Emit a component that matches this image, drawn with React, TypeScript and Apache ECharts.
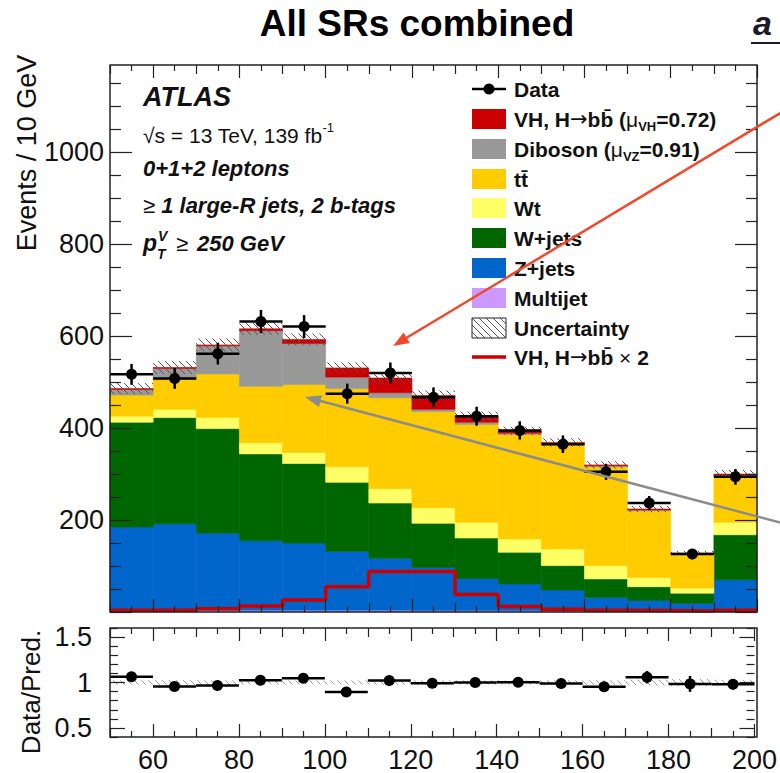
import React, { useEffect, useRef } from "react";
import * as echarts from "echarts";

// ---------------- data ----------------
const BIN_EDGES = [50, 60, 70, 80, 90, 100, 110, 120, 130, 140, 150, 160, 170, 180, 190, 200];
const MULTIJET = [6, 5, 4, 4, 4, 4, 4, 3, 3, 3, 2, 2, 1, 1, 1];
const ZJETS = [179, 187, 168, 151, 146, 128, 113, 94, 70, 58, 46, 30, 24, 18, 69];
const WJETS = [228, 231, 227, 189, 173, 150, 120, 96, 88, 69, 53, 40, 30, 22, 98];
const WT = [13, 18, 24, 24, 24, 34, 31, 34, 34, 29, 36, 29, 20, 11, 27];
const TTBAR = [46, 65, 95, 123, 148, 170, 198, 209, 213, 227, 229, 215, 145, 74, 99];
const DIBOSON = [12, 24, 61, 121, 89, 25, 11, 5, 5, 3, 1, 2, 2, 1, 4];
const VH = [2, 2, 2, 4, 9, 20, 32, 30, 13, 5, 2, 2, 2, 1, 2];
const VH_X2 = [4, 4, 7, 13, 26, 55, 88, 88, 38, 12, 6, 4, 3, 2, 4];
const DATA = [517, 508, 562, 632, 621, 475, 520, 467, 426, 395, 365, 305, 237, 126, 294];
const SYST = [12, 14, 14, 13, 13, 12, 12, 11, 10, 9, 9, 8, 7, 5, 9];

// ---------------- tick labels ----------------
const X_MAJOR = [60, 80, 100, 120, 140, 160, 180, 200];
const X_MID = [50, 70, 90, 110, 130, 150, 170, 190];
const X_MINOR = [55, 65, 75, 85, 95, 105, 115, 125, 135, 145, 155, 165, 175, 185, 195];
const Y_MAIN_LABELS = [200, 400, 600, 800, 1000];
const Y_MAIN_MAJOR = [0, 200, 400, 600, 800, 1000];
const Y_MAIN_MINOR = [50, 100, 150, 250, 300, 350, 450, 500, 550, 650, 700, 750, 850, 900, 950, 1050, 1100, 1150];
const Y_RATIO_LABELS = [0.5, 1, 1.5];
const Y_RATIO_MINOR = [0.4, 0.6, 0.7, 0.8, 0.9, 1.1, 1.2, 1.3, 1.4, 1.6];

const FONT = "'Liberation Sans', Arial, Helvetica, sans-serif";
const C = {
  vh: "#cc0000",
  dib: "#999999",
  tt: "#ffcc00",
  wt: "#ffff66",
  wj: "#006600",
  zj: "#0066cc",
  mj: "#cc99ff",
};

const MAIN = { left: 110, top: 65, width: 647, height: 547 };
const RATIO = { left: 110, top: 628, width: 647, height: 109 };

function hatchLines(x0: number, y0: number, x1: number, y1: number, step: number, color: string, w: number) {
  const out: any[] = [];
  const cStart = Math.ceil((y0 - x1) / step) * step;
  for (let c = cStart; c <= y1 - x0; c += step) {
    const xa = Math.max(x0, y0 - c);
    const xb = Math.min(x1, y1 - c);
    if (xb > xa) {
      out.push({ type: "line", shape: { x1: xa, y1: xa + c, x2: xb, y2: xb + c }, style: { stroke: color, lineWidth: w } });
    }
  }
  return out;
}

const fmt = (v: number) => String(v);

function xAxes(grid: number, labels: boolean) {
  const tick = { color: "#222", width: 1.2 };
  const mk = (pos: string, vals: number[], len: number, withLabels: boolean) => ({
    type: "value",
    gridIndex: grid,
    position: pos,
    min: 50,
    max: 200,
    z: 10,
    axisLine: { show: false, onZero: false },
    splitLine: { show: false },
    axisTick: { show: true, inside: true, length: len, customValues: vals, lineStyle: tick },
    axisLabel: withLabels
      ? { show: true, customValues: X_MAJOR, formatter: fmt, fontSize: 27, color: "#111", fontFamily: FONT, margin: 9 }
      : { show: false },
  });
  return [
    mk("bottom", X_MAJOR, 13, labels),
    mk("bottom", X_MID, 9, false),
    mk("bottom", X_MINOR, 6, false),
    mk("top", X_MAJOR, 13, false),
    mk("top", X_MID, 9, false),
    mk("top", X_MINOR, 6, false),
  ];
}

function yAxes(grid: number, min: number, max: number, major: number[], minor: number[], labels: number[], majorLen: number, minorLen: number, margin: number) {
  const tick = { color: "#222", width: 1.2 };
  const mk = (pos: string, vals: number[], len: number, withLabels: boolean) => ({
    type: "value",
    gridIndex: grid,
    position: pos,
    min,
    max,
    z: 10,
    axisLine: { show: false, onZero: false },
    splitLine: { show: false },
    axisTick: { show: true, inside: true, length: len, customValues: vals, lineStyle: tick },
    axisLabel: withLabels
      ? { show: true, customValues: labels, formatter: fmt, fontSize: 27, color: "#111", fontFamily: FONT, margin }
      : { show: false },
  });
  return [mk("left", major, majorLen, true), mk("left", minor, minorLen, false), mk("right", major, majorLen, false), mk("right", minor, minorLen, false)];
}

function rectRender(color: string) {
  return (_p: any, api: any) => {
    const a = api.coord([api.value(0), api.value(3)]);
    const b = api.coord([api.value(1), api.value(2)]);
    return {
      type: "rect",
      shape: { x: a[0], y: a[1], width: b[0] - a[0], height: b[1] - a[1] },
      style: { fill: color, stroke: color, lineWidth: 0.6 },
    };
  };
}

function hatchRender(color: string) {
  return (_p: any, api: any) => {
    const a = api.coord([api.value(0), api.value(3)]);
    const b = api.coord([api.value(1), api.value(2)]);
    return { type: "group", children: hatchLines(a[0], a[1], b[0], b[1], 7, color, 1) };
  };
}

function pointRender(r: number) {
  return (_p: any, api: any) => {
    const xl = api.value(0), xh = api.value(1), y = api.value(2), e = api.value(3);
    const xm = (xl + xh) / 2;
    const pl = api.coord([xl, y]);
    const ph = api.coord([xh, y]);
    const pt = api.coord([xm, y + e]);
    const pb = api.coord([xm, y - e]);
    return {
      type: "group",
      children: [
        { type: "line", shape: { x1: pl[0], y1: pl[1], x2: ph[0], y2: ph[1] }, style: { stroke: "#000", lineWidth: 2.5 } },
        { type: "line", shape: { x1: pt[0], y1: pt[1], x2: pb[0], y2: pb[1] }, style: { stroke: "#000", lineWidth: 2.5 } },
        { type: "circle", shape: { cx: pt[0], cy: pl[1], r }, style: { fill: "#000" } },
      ],
    };
  };
}

function arrow(x0: number, y0: number, x1: number, y1: number, color: string) {
  const dx = x1 - x0, dy = y1 - y0;
  const L = Math.hypot(dx, dy);
  const ux = dx / L, uy = dy / L;
  const hl = 16, hw = 12;
  const bx = x1 - ux * hl, by = y1 - uy * hl;
  const px = -uy, py = ux;
  return [
    { type: "line", z: 100, shape: { x1: x0, y1: y0, x2: bx + ux * 2, y2: by + uy * 2 }, style: { stroke: color, lineWidth: 2.5 } },
    {
      type: "polygon",
      z: 100,
      shape: { points: [[x1, y1], [bx + px * hw / 2, by + py * hw / 2], [bx - px * hw / 2, by - py * hw / 2]] },
      style: { fill: color },
    },
  ];
}

function buildOption() {
  const n = DATA.length;
  const cum = new Array(n).fill(0);
  const stacks = [
    { name: "Multijet", values: MULTIJET, color: C.mj },
    { name: "Z+jets", values: ZJETS, color: C.zj },
    { name: "W+jets", values: WJETS, color: C.wj },
    { name: "Wt", values: WT, color: C.wt },
    { name: "ttbar", values: TTBAR, color: C.tt },
    { name: "Diboson", values: DIBOSON, color: C.dib },
    { name: "VH", values: VH, color: C.vh },
  ];
  const series: any[] = [];
  stacks.forEach((s) => {
    const data = s.values.map((v, i) => {
      const lo = cum[i];
      cum[i] = lo + v;
      return [BIN_EDGES[i], BIN_EDGES[i + 1], lo, lo + v];
    });
    series.push({ type: "custom", name: s.name, xAxisIndex: 0, yAxisIndex: 0, data, renderItem: rectRender(s.color), z: 2 });
  });
  const totals = cum.slice();

  series.push({
    type: "custom",
    name: "Uncertainty",
    xAxisIndex: 0,
    yAxisIndex: 0,
    z: 3,
    data: totals.map((t, i) => [BIN_EDGES[i], BIN_EDGES[i + 1], t - SYST[i], t + SYST[i]]),
    renderItem: hatchRender("#555"),
  });

  const lineData: number[][] = VH_X2.map((v, i) => [BIN_EDGES[i], v]);
  lineData.push([BIN_EDGES[n], VH_X2[n - 1]]);
  series.push({
    type: "line",
    name: "VH x2",
    xAxisIndex: 0,
    yAxisIndex: 0,
    step: "end",
    symbol: "none",
    z: 4,
    data: lineData,
    lineStyle: { color: C.vh, width: 3.5 },
  });

  series.push({
    type: "custom",
    name: "Data",
    xAxisIndex: 0,
    yAxisIndex: 0,
    z: 5,
    data: DATA.map((d, i) => [BIN_EDGES[i], BIN_EDGES[i + 1], d, Math.sqrt(d)]),
    renderItem: pointRender(5.5),
  });

  // ratio panel
  series.push({
    type: "custom",
    name: "Ratio band",
    xAxisIndex: 6,
    yAxisIndex: 4,
    z: 3,
    data: totals.map((t, i) => [BIN_EDGES[i], BIN_EDGES[i + 1], 1 - SYST[i] / t, 1 + SYST[i] / t]),
    renderItem: hatchRender("#999"),
  });
  series.push({
    type: "custom",
    name: "Ratio",
    xAxisIndex: 6,
    yAxisIndex: 4,
    z: 5,
    data: DATA.map((d, i) => [BIN_EDGES[i], BIN_EDGES[i + 1], d / totals[i], Math.sqrt(d) / totals[i]]),
    renderItem: pointRender(5.5),
  });

  // ---------------- graphics: texts, legend, frames, arrows ----------------
  const g: any[] = [];
  const txt = (x: number, y: number, text: string, style: any, extra: any = {}) =>
    g.push({
      type: "text",
      x,
      y,
      z: 20,
      ...extra,
      style: { text, fontFamily: FONT, fill: "#111", align: "left", verticalAlign: "middle", textAlign: "left", textVerticalAlign: "middle", ...style },
    });

  // frames
  g.push({ type: "rect", z: 50, shape: { x: MAIN.left, y: MAIN.top, width: MAIN.width, height: MAIN.height }, style: { fill: "none", stroke: "#222", lineWidth: 1.5 } });
  g.push({ type: "rect", z: 50, shape: { x: RATIO.left, y: RATIO.top, width: RATIO.width, height: RATIO.height }, style: { fill: "none", stroke: "#222", lineWidth: 1.5 } });

  // title
  txt(417, 23, "All SRs combined", { fontSize: 37, fontWeight: "bold", align: "center", textAlign: "center", fill: "#000" });
  txt(753, 23, "a", { fontSize: 34, fontStyle: "italic", fontWeight: "bold", fontFamily: FONT, fill: "#1a1a2a" });
  g.push({ type: "line", z: 20, shape: { x1: 751, y1: 43, x2: 780, y2: 43 }, style: { stroke: "#1a1a2a", lineWidth: 2 } });

  // axis titles
  txt(27, 153, "Events / 10 GeV", { fontSize: 27, align: "center", textAlign: "center" }, { rotation: Math.PI / 2 });
  txt(31, 692, "Data/Pred.", { fontSize: 26, align: "center", textAlign: "center" }, { rotation: Math.PI / 2 });

  // ATLAS labels
  txt(143, 97, "ATLAS", { fontSize: 27, fontWeight: "bold", fontStyle: "italic" });
  txt(143, 135, "{n|√s = 13 TeV, 139 fb}{u|-1}", {
    rich: {
      n: { fontSize: 21, fontFamily: FONT, fill: "#111", lineHeight: 28 },
      u: { fontSize: 13, fontFamily: FONT, fill: "#111", lineHeight: 13, verticalAlign: "top" },
    },
  });
  txt(143, 168, "0+1+2 leptons", { fontSize: 22, fontWeight: "bold", fontStyle: "italic" });
  txt(143, 205, "{n|≥ }{b|1 large-R jets, 2 b-tags}", {
    rich: {
      n: { fontSize: 22, fontFamily: FONT, fill: "#111" },
      b: { fontSize: 22, fontFamily: FONT, fill: "#111", fontWeight: "bold", fontStyle: "italic" },
    },
  });
  txt(143, 243, "p", { fontSize: 23, fontWeight: "bold", fontStyle: "italic" });
  txt(158, 236, "V", { fontSize: 14, fontWeight: "bold", fontStyle: "italic" });
  txt(157, 254, "T", { fontSize: 14, fontWeight: "bold", fontStyle: "italic" });
  txt(176, 243, "≥", { fontSize: 22 });
  txt(197, 243, "250 GeV", { fontSize: 22, fontWeight: "bold", fontStyle: "italic" });

  // legend
  const LX = 472, LW = 34, LH = 20, TX = 514;
  const rows = [89, 119, 149, 179, 208, 238, 268, 298, 328, 357];
  const rich = {
    b: { fontSize: 21, fontFamily: FONT, fontWeight: "bold", fill: "#111", lineHeight: 28 },
    r: { fontSize: 21, fontFamily: FONT, fill: "#111", lineHeight: 28 },
    a: { fontSize: 21, fontFamily: "'DejaVu Sans', sans-serif", fill: "#111", lineHeight: 28 },
    s: { fontSize: 13, fontFamily: FONT, fontWeight: "bold", fill: "#111", lineHeight: 13, verticalAlign: "bottom" },
  };
  const legend = [
    { kind: "data", text: "{b|Data}" },
    { kind: "box", color: C.vh, text: "{b|VH, H}{a|→}{b|bb̄ (}{r|μ}{s|VH}{b|=0.72)}" },
    { kind: "box", color: C.dib, text: "{b|Diboson (}{r|μ}{s|VZ}{b|=0.91)}" },
    { kind: "box", color: C.tt, text: "{b|tt̄}" },
    { kind: "box", color: C.wt, text: "{b|Wt}" },
    { kind: "box", color: C.wj, text: "{b|W+jets}" },
    { kind: "box", color: C.zj, text: "{b|Z+jets}" },
    { kind: "box", color: C.mj, text: "{b|Multijet}" },
    { kind: "hatch", text: "{b|Uncertainty}" },
    { kind: "line", text: "{b|VH, H}{a|→}{b|bb̄ }{r|×}{b| 2}" },
  ];
  legend.forEach((e, i) => {
    const y = rows[i];
    if (e.kind === "data") {
      g.push({ type: "line", z: 20, shape: { x1: LX, y1: y, x2: LX + LW, y2: y }, style: { stroke: "#000", lineWidth: 2.5 } });
      g.push({ type: "circle", z: 20, shape: { cx: LX + LW / 2, cy: y, r: 5.5 }, style: { fill: "#000" } });
    } else if (e.kind === "box") {
      g.push({ type: "rect", z: 20, shape: { x: LX, y: y - LH / 2, width: LW, height: LH }, style: { fill: (e as any).color } });
    } else if (e.kind === "hatch") {
      g.push({ type: "group", z: 20, children: hatchLines(LX, y - LH / 2, LX + LW, y + LH / 2, 7, "#555", 1) });
      g.push({ type: "rect", z: 20, shape: { x: LX, y: y - LH / 2, width: LW, height: LH }, style: { fill: "none", stroke: "#222", lineWidth: 1 } });
    } else {
      g.push({ type: "line", z: 20, shape: { x1: LX, y1: y, x2: LX + LW, y2: y }, style: { stroke: C.vh, lineWidth: 3.5 } });
    }
    txt(TX, y, e.text, { rich });
  });

  // annotation arrows
  arrow(782, 112, 393, 346, "#f0482a").forEach((a) => g.push(a));
  arrow(782, 523, 305, 397, "#8c8c8c").forEach((a) => g.push(a));

  return {
    animation: false,
    backgroundColor: "#ffffff",
    textStyle: { fontFamily: FONT },
    grid: [
      { ...MAIN, show: false },
      { ...RATIO, show: false },
    ],
    xAxis: [...xAxes(0, false), ...xAxes(1, true)],
    yAxis: [
      ...yAxes(0, 0, 1190, Y_MAIN_MAJOR, Y_MAIN_MINOR, Y_MAIN_LABELS, 22, 11, 6),
      ...yAxes(1, 0.4, 1.6, Y_RATIO_LABELS, Y_RATIO_MINOR, Y_RATIO_LABELS, 15, 8, 18),
    ],
    series,
    graphic: g,
  };
}

export default function App() {
  const ref = useRef<HTMLDivElement>(null);
  useEffect(() => {
    if (!ref.current) return;
    const chart = echarts.init(ref.current, null, { renderer: "svg" });
    chart.setOption(buildOption() as any);
    return () => chart.dispose();
  }, []);
  return (
    <div
      ref={ref}
      style={{ position: "fixed", left: 0, top: 0, width: 780, height: 773, background: "#fff" }}
    />
  );
}
